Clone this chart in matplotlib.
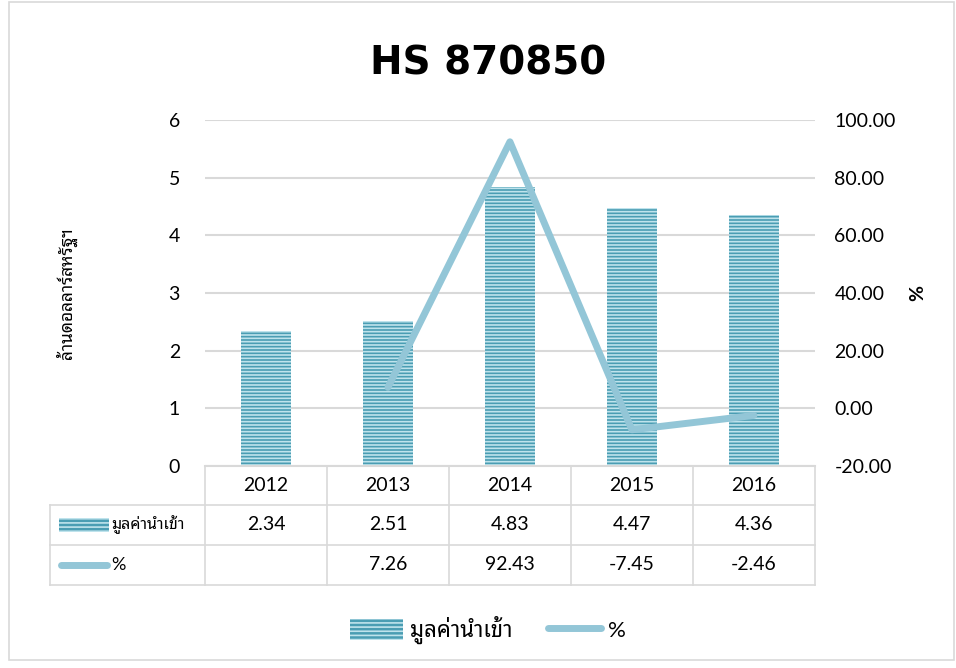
import matplotlib
matplotlib.use("Agg")
import matplotlib.pyplot as plt
import matplotlib.transforms as mtransforms
from matplotlib.patches import Rectangle
from matplotlib.lines import Line2D
import numpy as np

plt.rcParams['font.family'] = ['Lato', 'Noto Sans Thai Looped', 'DejaVu Sans']
plt.rcParams['hatch.linewidth'] = 1.2

years = ['2012', '2013', '2014', '2015', '2016']
values = [2.34, 2.51, 4.83, 4.47, 4.36]
pct = [None, 7.26, 92.43, -7.45, -2.46]
title = 'HS 870850'
bar_name = 'มูลค่านำเข้า'
line_name = '%'
ylabel_left = 'ล้านดอลลาร์สหรัฐฯ'

bar_col = '#4A9DB3'
stripe_col = '#BFE3EC'
line_col = '#93C6D7'
grid_col = '#D9D9D9'

fig = plt.figure(figsize=(9.56, 6.68), dpi=100)
fig.patches.append(Rectangle((0.009, 0.012), 0.989, 0.985, transform=fig.transFigure,
                             fill=False, edgecolor=grid_col, linewidth=1.2))
ax = fig.add_axes([0.2144, 0.3024, 0.638, 0.518])
x = np.arange(len(years))

ax.bar(x, values, width=0.41, color=bar_col, edgecolor=stripe_col, hatch='-----',
       linewidth=0, zorder=2)
ax.set_xlim(-0.5, len(years) - 0.5)
ax.set_ylim(0, 6)
ax.set_yticks(range(0, 7))
ax.grid(axis='y', color=grid_col, linewidth=1.5, zorder=0)
ax.set_xticks([])
for s in ['top', 'right', 'left']:
    ax.spines[s].set_visible(False)
ax.spines['bottom'].set_color(grid_col)
ax.spines['bottom'].set_linewidth(1.5)
ax.tick_params(axis='y', length=0, labelsize=14, pad=18)
ax.set_ylabel(ylabel_left, fontsize=12.5, fontweight='bold', labelpad=66)

ax2 = ax.twinx()
px = [i for i, v in enumerate(pct) if v is not None]
pv = [v for v in pct if v is not None]
ax2.plot(px, pv, color=line_col, linewidth=5, solid_capstyle='round', zorder=3)
ax2.set_ylim(-20, 100)
ax2.set_yticks(np.arange(-20, 101, 20))
ax2.set_yticklabels(['%.2f' % t for t in np.arange(-20, 101, 20)])
for s in ax2.spines.values():
    s.set_visible(False)
ax2.tick_params(axis='y', length=0, labelsize=14, pad=14)
ax2.set_ylabel('%', fontsize=14, fontweight='bold', rotation=90, labelpad=10)

fig.text(0.511, 0.905, title, ha='center', va='center', fontsize=28,
         fontweight='bold', family='DejaVu Sans')

# data table below the plot
tr = mtransforms.blended_transform_factory(ax.transData, ax.transAxes)
rows = [0.0, -0.1127, -0.2283, -0.3439]
left = -1.77
lw = 1.2
for i, y in enumerate(rows):
    x0 = -0.5 if i == 0 else left
    ax.add_line(Line2D([x0, len(years) - 0.5], [y, y], transform=tr, color=grid_col,
                       linewidth=lw, clip_on=False))
for k in range(len(years) + 1):
    ax.add_line(Line2D([k - 0.5, k - 0.5], [rows[0], rows[3]], transform=tr,
                       color=grid_col, linewidth=lw, clip_on=False))
ax.add_line(Line2D([left, left], [rows[1], rows[3]], transform=tr, color=grid_col,
                   linewidth=lw, clip_on=False))
ymid = [(rows[i] + rows[i + 1]) / 2 for i in range(3)]
for i, yr in enumerate(years):
    ax.text(i, ymid[0], yr, transform=tr, ha='center', va='center', fontsize=14)
    ax.text(i, ymid[1], '%.2f' % values[i], transform=tr, ha='center', va='center',
            fontsize=14)
    if pct[i] is not None:
        ax.text(i, ymid[2], '%.2f' % pct[i], transform=tr, ha='center', va='center',
                fontsize=14)
ax.add_patch(Rectangle((-1.7, ymid[1] - 0.02), 0.41, 0.04, transform=tr,
                       facecolor=bar_col, edgecolor=stripe_col, hatch='----',
                       linewidth=0, clip_on=False))
ax.text(-1.27, ymid[1], bar_name, transform=tr, ha='left', va='center', fontsize=11.5)
ax.add_line(Line2D([-1.68, -1.3], [ymid[2], ymid[2]], transform=tr, color=line_col,
                   linewidth=5, solid_capstyle='round', clip_on=False))
ax.text(-1.27, ymid[2], line_name, transform=tr, ha='left', va='center', fontsize=13)

# legend at the bottom
handles = [Rectangle((0, 0), 1, 1, facecolor=bar_col, edgecolor=stripe_col,
                     hatch='----', linewidth=0),
           Line2D([], [], color=line_col, linewidth=5, solid_capstyle='round')]
fig.legend(handles, [bar_name, line_name], loc='center', bbox_to_anchor=(0.51, 0.057),
           ncol=2, frameon=False, fontsize=16, handlelength=2.4, handleheight=1.1,
           columnspacing=1.6, handletextpad=0.3)

fig.savefig('out.png', dpi=100)
